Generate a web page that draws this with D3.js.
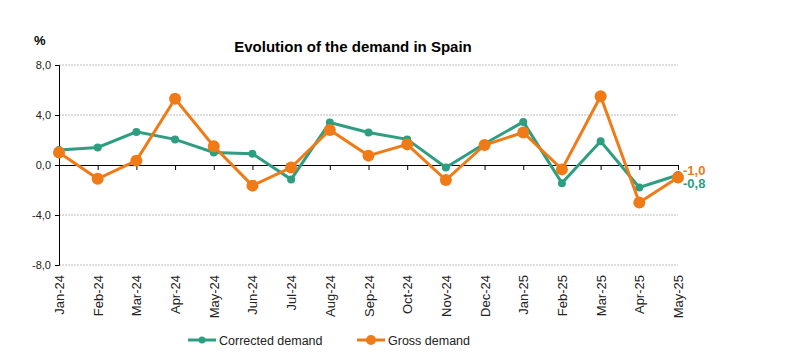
<!DOCTYPE html>
<html><head><meta charset="utf-8">
<script src="https://cdn.jsdelivr.net/npm/d3@7"></script>
<style>body{margin:0;background:#fff;} text{font-family:Arial,"Liberation Sans",sans-serif;}</style>
</head><body>
<svg id="c" width="804" height="358"></svg>
<script>
const months = ["Jan-24","Feb-24","Mar-24","Apr-24","May-24","Jun-24","Jul-24","Aug-24","Sep-24","Oct-24","Nov-24","Dec-24","Jan-25","Feb-25","Mar-25","Apr-25","May-25"];
const corrected = [1.2,1.4,2.65,2.05,1.0,0.9,-1.15,3.4,2.6,2.05,-0.2,1.7,3.45,-1.45,1.9,-1.8,-0.8];
const gross = [1.0,-1.1,0.35,5.3,1.5,-1.65,-0.2,2.8,0.75,1.65,-1.2,1.6,2.6,-0.35,5.5,-3.0,-1.0];
const yTicks = [8,4,0,-4,-8];
const seriesNames = ["Corrected demand","Gross demand"];
const colors = ["#2E9E80","#F07A15"];

const svg = d3.select("#c");
const x = d3.scalePoint().domain(months).range([59,678]);
const y = d3.scaleLinear().domain([-8,8]).range([265,65]);
const fmt = v => d3.format(".1f")(v).replace(".",",").replace("−","-");

// grid
svg.append("g").selectAll("line").data(yTicks.filter(d=>d!==0)).join("line")
  .attr("x1",59).attr("x2",678).attr("y1",d=>y(d)).attr("y2",d=>y(d))
  .attr("stroke","#bbb").attr("stroke-width",1).attr("stroke-dasharray","2,1");

// y axis
const ya = svg.append("g").attr("transform","translate(59,0)")
  .call(d3.axisLeft(y).tickValues(yTicks).tickSize(4).tickFormat(fmt));
ya.select(".domain").attr("stroke","#000");
ya.selectAll("text").attr("font-size",11).attr("fill","#222").attr("dx","-1");

// x axis at zero
const xa = svg.append("g").attr("transform",`translate(0,${y(0)})`)
  .call(d3.axisBottom(x).tickSize(5).tickSizeOuter(0).tickFormat(""));
xa.select(".domain").attr("stroke","#000");

// x labels rotated at bottom
svg.append("g").selectAll("text").data(months).join("text")
  .attr("transform",d=>`translate(${x(d)+5},275) rotate(-90)`)
  .attr("text-anchor","end").attr("font-size",13).attr("fill","#222").text(d=>d);

// lines
const line = d3.line().x((d,i)=>x(months[i])).y(d=>y(d));
[[corrected,0,4],[gross,1,6]].forEach(([data,k,r])=>{
  svg.append("path").datum(data).attr("d",line).attr("fill","none")
    .attr("stroke",colors[k]).attr("stroke-width",3);
  svg.append("g").selectAll("circle").data(data).join("circle")
    .attr("cx",(d,i)=>x(months[i])).attr("cy",d=>y(d)).attr("r",r).attr("fill",colors[k]);
});

// end labels
const last = months.length-1;
svg.append("text").attr("x",683).attr("y",y(gross[last])-3).attr("font-size",13).attr("font-weight","bold")
  .attr("fill",colors[1]).text(fmt(gross[last]));
svg.append("text").attr("x",683).attr("y",y(corrected[last])+13).attr("font-size",13).attr("font-weight","bold")
  .attr("fill",colors[0]).text(fmt(corrected[last]));

// title
svg.append("text").attr("x",353).attr("y",52).attr("text-anchor","middle").attr("font-size",15)
  .attr("font-weight","bold").attr("fill","#000").text("Evolution of the demand in Spain");
svg.append("text").attr("x",34).attr("y",45).attr("font-size",13).attr("font-weight","bold").attr("fill","#000").text("%");

// legend
const leg = [[188,0],[357,1]];
leg.forEach(([lx,k])=>{
  const g = svg.append("g");
  g.append("line").attr("x1",lx).attr("x2",lx+28).attr("y1",340).attr("y2",340).attr("stroke",colors[k]).attr("stroke-width",3);
  g.append("circle").attr("cx",lx+14).attr("cy",340).attr("r",k?5:3.5).attr("fill",colors[k]);
  g.append("text").attr("x",lx+31).attr("y",345).attr("font-size",12.5).attr("fill","#222").text(seriesNames[k]);
});
</script>
</body></html>
